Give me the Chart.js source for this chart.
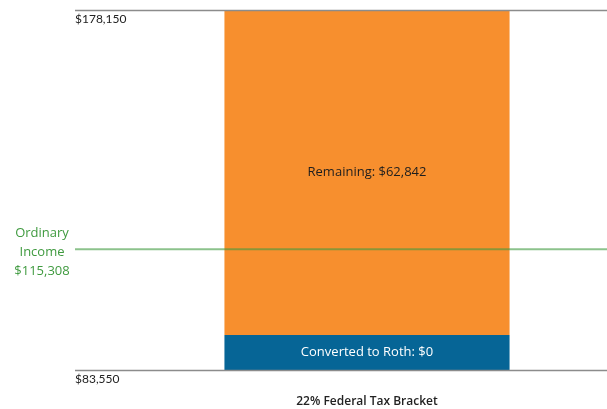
<!DOCTYPE html>
<html>
<head>
<meta charset="utf-8">
<script src="https://cdn.jsdelivr.net/npm/chart.js@4.4.1/dist/chart.umd.min.js"></script>
<style>
  html, body { margin: 0; padding: 0; background: #ffffff; }
  #wrap { width: 607px; height: 409px; position: relative; }
</style>
</head>
<body>
<div id="wrap"><canvas id="myChartTax"></canvas></div>
<script>
//? Données du graphique.

const categories = ["22% Federal Tax Bracket"];
const bracketBounds = [83550, 178150];
const bracketTickLabels = ["$83,550", "$178,150"];
const ordinaryIncome = 115308;
const ordinaryIncomeLabel = ["Ordinary", "Income", "$115,308"];
const segmentLabels = ["Converted to Roth: $0", "Remaining: $62,842"];
// bande bleue affichée avec une hauteur minimale même si la conversion est à 0
const convertedShown = [[83550, 92750]];
const remainingShown = [[92750, 178150]];

const couleurOrange = "#f78f2e";
const couleurBleu = "#066596";
const couleurVert = "#3f9a3f";
const policeTexte = "'Open Sans', Lato, sans-serif";
const policeChiffres = "Lato, 'Open Sans', sans-serif";

//? -------------------------------------------------

//? Plugin : lignes du haut / bas, ligne revenu ordinaire et textes.

const pluginAnnotations = {
  id: "annotationsTax",
  afterDatasetsDraw(chart) {
    const { ctx, chartArea, scales } = chart;
    const y = scales.y;
    const xGauche = 75;

    ctx.save();

    // lignes haut et bas de la tranche
    ctx.strokeStyle = "#8c8c8c";
    ctx.lineWidth = 1.5;
    bracketBounds.forEach((v) => {
      const py = Math.round(y.getPixelForValue(v)) + 0.5;
      ctx.beginPath();
      ctx.moveTo(xGauche, py);
      ctx.lineTo(chartArea.right, py);
      ctx.stroke();
    });

    // étiquettes de la tranche, sous chaque ligne
    ctx.fillStyle = "#222222";
    ctx.font = "12px " + policeChiffres;
    ctx.textAlign = "left";
    ctx.textBaseline = "middle";
    bracketBounds.forEach((v, i) => {
      ctx.fillText(bracketTickLabels[i], xGauche, y.getPixelForValue(v) + 9);
    });

    // ligne revenu ordinaire
    const pyRevenu = y.getPixelForValue(ordinaryIncome);
    ctx.strokeStyle = "rgba(63, 154, 63, 0.6)";
    ctx.lineWidth = 2;
    ctx.beginPath();
    ctx.moveTo(xGauche, pyRevenu);
    ctx.lineTo(chartArea.right, pyRevenu);
    ctx.stroke();

    ctx.fillStyle = couleurVert;
    ctx.font = "13px " + policeTexte;
    ctx.textAlign = "center";
    ordinaryIncomeLabel.forEach((ligne, i) => {
      ctx.fillText(ligne, 42, pyRevenu - 16 + i * 19);
    });

    // textes dans les segments
    const metaBleu = chart.getDatasetMeta(0).data[0];
    const metaOrange = chart.getDatasetMeta(1).data[0];
    ctx.font = "13px " + policeTexte;
    ctx.fillStyle = "#ffffff";
    ctx.fillText(segmentLabels[0], metaBleu.x, (metaBleu.y + metaBleu.base) / 2);
    ctx.fillStyle = "#1e1e1e";
    ctx.fillText(segmentLabels[1], metaOrange.x, (metaOrange.y + metaOrange.base) / 2);

    ctx.restore();
  },
};

//? -------------------------------------------------

//? Construction du graphique.

const ctxTax = document.getElementById("myChartTax").getContext("2d");

const data = {
  labels: categories,
  datasets: [
    {
      label: segmentLabels[0],
      data: convertedShown,
      backgroundColor: couleurBleu,
      borderWidth: 0,
      barPercentage: 0.594,
      categoryPercentage: 1,
      grouped: false,
    },
    {
      label: segmentLabels[1],
      data: remainingShown,
      backgroundColor: couleurOrange,
      borderWidth: 0,
      barPercentage: 0.594,
      categoryPercentage: 1,
      grouped: false,
    },
  ],
};

const optionsTax = {
  responsive: true,
  maintainAspectRatio: false,
  animation: { duration: 0 },
  layout: { padding: { left: 127, top: 10, right: 0, bottom: 0 } },
  plugins: {
    legend: { display: false },
    tooltip: { enabled: false },
  },
  scales: {
    x: {
      grid: { display: false, drawTicks: false },
      border: { display: false },
      ticks: {
        color: "#222222",
        padding: 24,
        font: { family: policeTexte, size: 12, weight: "600" },
      },
      afterFit: (scale) => {
        scale.height = 39;
      },
    },
    y: {
      display: false,
      min: bracketBounds[0],
      max: bracketBounds[1],
    },
  },
};

new Chart(ctxTax, {
  type: "bar",
  data,
  options: optionsTax,
  plugins: [pluginAnnotations],
});
</script>
</body>
</html>
